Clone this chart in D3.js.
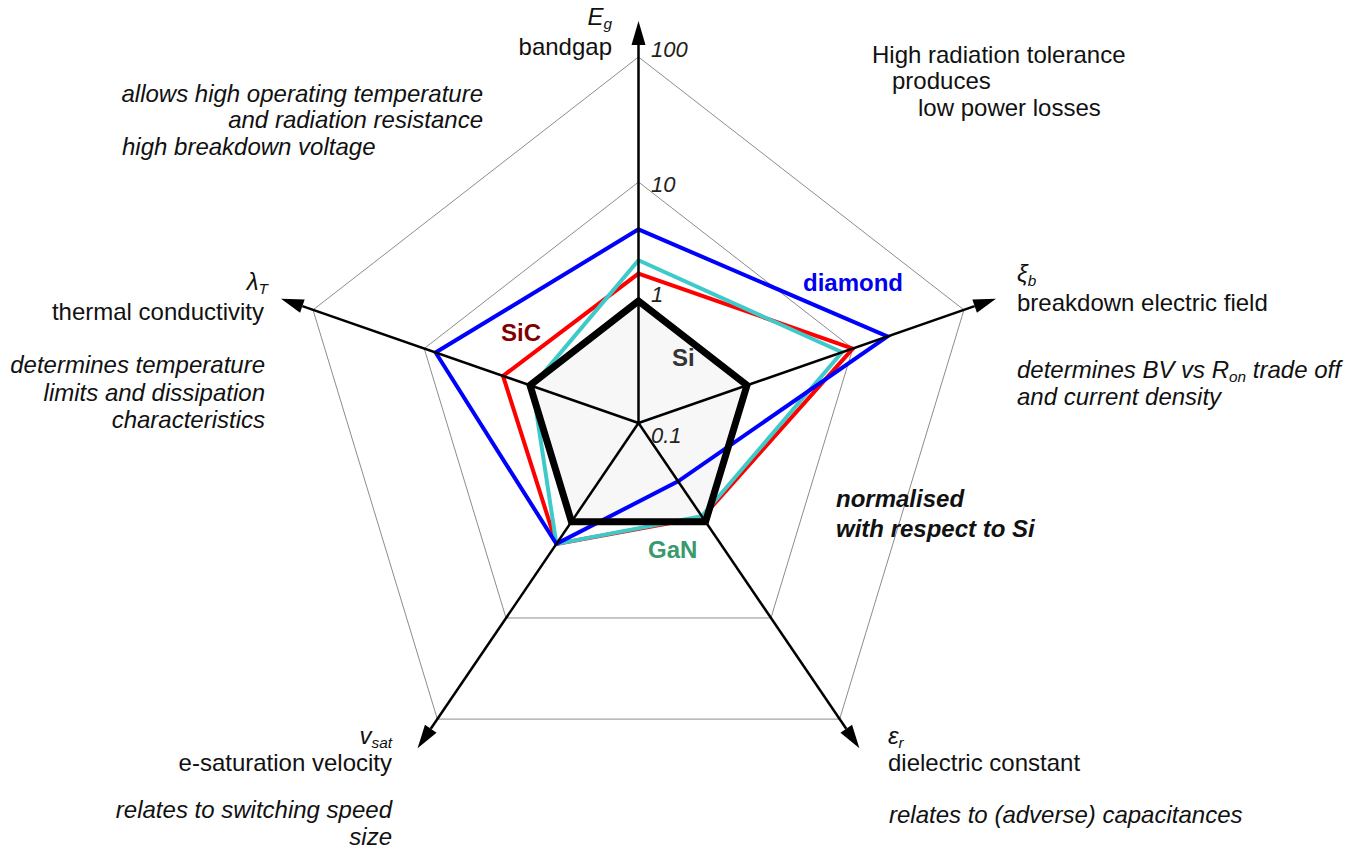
<!DOCTYPE html>
<html>
<head>
<meta charset="utf-8">
<script src="https://cdn.jsdelivr.net/npm/d3@7"></script>
<style>
  html, body { margin: 0; padding: 0; background: #fff; }
  svg { display: block; font-family: "Liberation Sans", Arial, Helvetica, sans-serif; }
</style>
</head>
<body>
<svg id="chart" width="1359" height="852"></svg>
<script>
// Material properties normalised to silicon, one value per axis
const axisKeys = ["Eg", "xi_b", "eps_r", "v_sat", "lambda_T"];
const sicValues = [1.7, 10, 0.9, 1.7, 1.8];
const ganValues = [2.2, 7.9, 0.88, 1.7, 0.95];
const diamondValues = [4.0, 20.5, 0.39, 1.7, 7.8];
const siValues = [1, 1, 1, 1, 1];
const gridLevels = [10, 100];
const tickValues = [100, 10, 1, 0.1];
const tickLabels = ["100", "10", "1", "0.1"];

const svg = d3.select("#chart");
const cx = 638.5, cy = 423;
const sx = 0.935;               // horizontal squeeze of the pentagon
const axisLength = 402;

// radial log scale (piecewise, centre = 0.1)
const r = d3.scaleLog().domain([0.1, 1, 10, 100]).range([0, 122, 241, 366]);

const angle = i => (-90 + i * 72) * Math.PI / 180;
const pt = (i, rad) => [cx + sx * rad * Math.cos(angle(i)), cy + rad * Math.sin(angle(i))];
const polyPath = vals => "M" + vals.map((v, i) => pt(i, r(v)).join(",")).join("L") + "Z";

// Si reference polygon fill
svg.append("path").attr("d", polyPath(siValues)).attr("fill", "#f7f7f7").attr("stroke", "none");

// grid pentagons
svg.selectAll("path.grid").data(gridLevels).enter().append("path")
  .attr("class", "grid")
  .attr("d", lv => polyPath(axisKeys.map(() => lv)))
  .attr("fill", "none").attr("stroke", "#8c8c8c").attr("stroke-width", 1);

// material polygons
const series = [
  { values: sicValues, color: "#ff0000", width: 4 },
  { values: ganValues, color: "#3fcaca", width: 4 },
  { values: diamondValues, color: "#0000ff", width: 4 }
];
svg.selectAll("path.series").data(series).enter().append("path")
  .attr("class", "series")
  .attr("d", d => polyPath(d.values))
  .attr("fill", "none").attr("stroke", d => d.color)
  .attr("stroke-width", d => d.width).attr("stroke-linejoin", "miter");

// axes with arrowheads
axisKeys.forEach((k, i) => {
  const tip = pt(i, axisLength);
  const back = pt(i, axisLength - 24);
  svg.append("line")
    .attr("x1", cx).attr("y1", cy).attr("x2", back[0]).attr("y2", back[1])
    .attr("stroke", "#000").attr("stroke-width", 2.5);
  const dx = tip[0] - back[0], dy = tip[1] - back[1];
  const len = Math.hypot(dx, dy);
  const nx = -dy / len * 7, ny = dx / len * 7;
  svg.append("path")
    .attr("d", `M${tip[0]},${tip[1]}L${back[0] + nx},${back[1] + ny}L${back[0] - nx},${back[1] - ny}Z`)
    .attr("fill", "#000");
});

// Si polygon outline
svg.append("path").attr("d", polyPath(siValues))
  .attr("fill", "none").attr("stroke", "#000").attr("stroke-width", 7).attr("stroke-linejoin", "miter");

// tick labels on the bandgap axis
const tickDy = [0, 10, 1, 20];
svg.selectAll("text.tick").data(tickValues).enter().append("text")
  .attr("class", "tick")
  .attr("x", 651).attr("y", (v, i) => cy - r(v) + tickDy[i])
  .attr("font-size", 22).attr("font-style", "italic").attr("fill", "#222")
  .text((v, i) => tickLabels[i]);

// text helper: parts = [[text, sub?], ...]
function label(x, y, anchor, parts, opts = {}) {
  const t = svg.append("text")
    .attr("x", x).attr("y", y).attr("text-anchor", anchor)
    .attr("font-size", opts.size || 24)
    .attr("font-style", opts.italic ? "italic" : "normal")
    .attr("font-weight", opts.bold ? "bold" : "normal")
    .attr("fill", opts.color || "#111");
  parts.forEach(p => {
    const s = t.append("tspan").text(p[0]);
    if (p[1] === "sub") s.attr("font-size", (opts.size || 24) * 0.64).attr("dy", 4);
    if (p[1] === "after") s.attr("dy", -4);
  });
  return t;
}

// bandgap
label(612, 25, "end", [["E"], ["g", "sub"]], { italic: true });
label(612, 55, "end", [["bandgap"]]);
label(483, 102, "end", [["allows high operating temperature"]], { italic: true });
label(483, 128, "end", [["and radiation resistance"]], { italic: true });
label(122, 155, "start", [["high breakdown voltage"]], { italic: true });

label(872, 63, "start", [["High radiation tolerance"]]);
label(892, 89, "start", [["produces"]]);
label(918, 116, "start", [["low power losses"]]);

// thermal conductivity
label(268, 290, "end", [["λ"], ["T", "sub"]], { italic: true });
label(264, 320, "end", [["thermal conductivity"]]);
label(265, 373, "end", [["determines temperature"]], { italic: true });
label(265, 401, "end", [["limits and dissipation"]], { italic: true });
label(265, 428, "end", [["characteristics"]], { italic: true });

// breakdown field
label(1017, 282, "start", [["ξ"], ["b", "sub"]], { italic: true });
label(1017, 311, "start", [["breakdown electric field"]]);
label(1017, 378, "start", [["determines BV vs R"], ["on", "sub"], [" trade off", "after"]], { italic: true });
label(1017, 405, "start", [["and current density"]], { italic: true });

label(836, 507, "start", [["normalised"]], { italic: true, bold: true });
label(836, 537, "start", [["with respect to Si"]], { italic: true, bold: true });

// saturation velocity
label(392, 744, "end", [["v"], ["sat", "sub"]], { italic: true });
label(392, 771, "end", [["e-saturation velocity"]]);
label(392, 818, "end", [["relates to switching speed"]], { italic: true });
label(392, 845, "end", [["size"]], { italic: true });

// dielectric constant
label(888, 744, "start", [["ε"], ["r", "sub"]], { italic: true });
label(888, 771, "start", [["dielectric constant"]]);
label(889, 823, "start", [["relates to (adverse) capacitances"]], { italic: true });

// material names
label(803, 291, "start", [["diamond"]], { bold: true, color: "#0000ee" });
label(501, 341, "start", [["SiC"]], { bold: true, color: "#800000" });
label(672, 366, "start", [["Si"]], { bold: true, color: "#333333" });
label(648, 558, "start", [["GaN"]], { bold: true, color: "#3a9a6b" });
</script>
</body>
</html>
